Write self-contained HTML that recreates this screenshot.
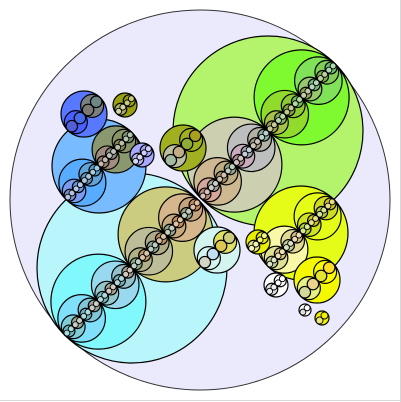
<!DOCTYPE html>
<html><head><meta charset="utf-8"><style>
html,body{margin:0;padding:0;background:#fff;}
svg{display:block;}
</style></head><body>
<svg id="chart" width="401" height="402" viewBox="0 0 401 402" xmlns="http://www.w3.org/2000/svg">
<rect x="0" y="0" width="401" height="402" fill="#fff"/>
<line x1="0" y1="400.5" x2="401" y2="400.5" stroke="#d8d8d8"/>
<line x1="400.5" y1="0" x2="400.5" y2="402" stroke="#d8d8d8"/>
<circle cx="200" cy="200" r="190" fill="#eaeafc" stroke="#333" stroke-width="1"/>
<g id="g"></g>
</svg>
<script>
// base circles: center x, center y, radius
const baseX = [268, 132, 99, 301, 84, 183, 217, 317, 125, 142, 258, 276, 305, 322];
const baseY = [131, 268, 166, 233, 114, 148, 250, 280, 105, 155, 242, 285, 310, 318];
const baseR = [95, 95, 47, 47, 23, 23, 23, 23, 12, 12, 12, 12, 6, 7];
const baseFill  = ["#b4f46c","#b8f6fc","#78bcff","#e4fc18","#5878ff","#a0b020","#d4f4f0","#f4f800","#9aa010","#a8a8ff","#e8f000","#ffffff","#ffffff","#f0f000"];
const outerFill = ["#80fa30","#80f8fc","#58acff","#e4fc18","#4860ff","#a0b020","#d4f4f0","#fcfc00","#9aa010","#a8a8ff","#e8f000","#ffffff","#ffffff","#f0f000"];
const innerFill = ["#cccfb0","#cccc80","#8a9870","#f8f8a8","#7a8080","#bcc0a0","#e0e060","#e8f080","#b0b060","#b8b8f0","#e8e880","#e0e0e0","#e0e0e0","#e8e880"];
const outerSign = [1, -1, -1, 1, -1, 1, -1, 1, 1, 1, 1, 1, 1, 1];
const tintColors = ["#806040","#40a0a0","#d06020","#8080ff","#ff60c0","#808040"];
const g = document.getElementById('g');
const NS = "http://www.w3.org/2000/svg";
const ux = Math.SQRT1_2, uy = -Math.SQRT1_2;
function circ(cx, cy, r, fill, op, name){
  const c = document.createElementNS(NS,'circle');
  c.setAttribute('cx', cx.toFixed(2));
  c.setAttribute('cy', cy.toFixed(2));
  c.setAttribute('r', r.toFixed(2));
  c.setAttribute('fill', fill);
  c.setAttribute('fill-opacity', op);
  c.setAttribute('stroke', '#000');
  c.setAttribute('stroke-width', r > 5 ? 1.2 : 0.9);
  
  
  g.appendChild(c);
}
function rec(cx, cy, r, depth, i, path){
  const h = r / 2;
  if (h < 2.9) return;
  for (let s = -1; s <= 1; s += 2){
    const nx = cx + s * h * ux, ny = cy + s * h * uy;
    let fill, op;
    if (depth === 0){
      fill = (s === outerSign[i]) ? outerFill[i] : innerFill[i];
      op = 1;
    } else {
      fill = tintColors[(depth * 2 + (s > 0 ? 1 : 0) + i) % tintColors.length];
      op = depth >= 3 ? 0.35 : 0.2;
      if (h < 4) { fill = "#ffffff"; op = 0.45; }
    }
    circ(nx, ny, h, fill, op, 'circle-' + i + '-' + path + (s > 0 ? 'a' : 'b'));
    rec(nx, ny, h, depth + 1, i, path + (s > 0 ? 'a' : 'b'));
  }
}
for (let i = 0; i < baseX.length; i++){
  circ(baseX[i], baseY[i], baseR[i], baseFill[i], 1, 'base-circle-' + i);
  rec(baseX[i], baseY[i], baseR[i], 0, i, '');
}
</script>
</body></html>
